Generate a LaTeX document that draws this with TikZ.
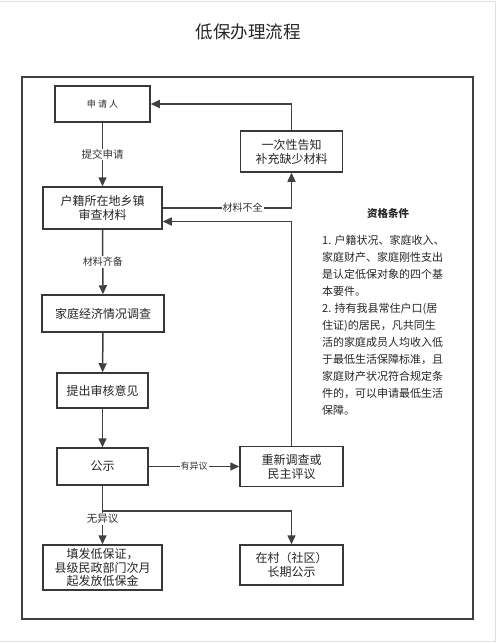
\documentclass[tikz,border=0pt]{standalone}
\usepackage{fontspec}
\setmainfont{Noto Sans CJK SC}
\usetikzlibrary{arrows.meta}
\begin{document}
\begin{tikzpicture}[x=1pt,y=-1pt,
  box/.style={draw=black!78, line width=1.5pt, fill=white, inner sep=0pt, align=center,
    font=\fontsize{12}{14}\selectfont, text=black!85},
  arr/.style={draw=black!75, line width=1.5pt, -{Triangle[length=9pt,width=8pt]}},
  lbl/.style={fill=white, inner sep=1pt, font=\fontsize{10}{12}\selectfont, text=black!80}]
\useasboundingbox (0,0) rectangle (499,643);
\fill[white] (0,0) rectangle (499,643);
\draw[gray!25, line width=1pt] (0,1.5) -- (495,1.5) -- (495,641) -- (0,641);
% title
\node[font=\fontsize{17.5}{20}\selectfont, text=black!85] (title) at (248,32) {低保办理流程};
% outer frame
\draw[draw=black!75, line width=1.6pt] (22,77) rectangle (473,619);
% boxes
\node[box, minimum width=95pt, minimum height=36pt, font=\fontsize{9}{11}\selectfont] (shen) at (102.5,104) {申 请 人};
\node[box, minimum width=102pt, minimum height=41pt] (gaozhi) at (291.5,151.5) {一次性告知\\补充缺少材料};
\node[box, minimum width=119pt, minimum height=42pt] (huji) at (102.5,208) {户籍所在地乡镇\\审查材料};
\node[box, minimum width=122pt, minimum height=37pt] (jiating) at (103,313.5) {家庭经济情况调查};
\node[box, minimum width=91pt, minimum height=35pt] (tichu) at (102.5,390.5) {提出审核意见};
\node[box, minimum width=91pt, minimum height=37pt] (gongshi) at (102.5,466.5) {公示};
\node[box, minimum width=103pt, minimum height=40pt] (chongxin) at (291.5,466.5) {重新调查或\\民主评议};
\node[box, minimum width=119pt, minimum height=45pt, font=\fontsize{12}{13.5}\selectfont] (tianfa) at (102.5,567.5) {填发低保证，\\县级民政部门次月\\起发放低保金};
\node[box, minimum width=103pt, minimum height=40pt] (zaicun) at (291.5,565) {在村（社区）\\长期公示};
% qualification text
\node[font=\bfseries\fontsize{10.5}{12}\selectfont, text=black!85] (head) at (388,214) {资格条件};
\node[anchor=north west, inner sep=0pt, align=left, font=\fontsize{11}{17}\selectfont, text=black!85] (cond) at (322,235)
 {1. 户籍状况、家庭收入、\\家庭财产、家庭刚性支出\\是认定低保对象的四个基\\本要件。\\2. 持有我县常住户口(居\\住证)的居民，凡共同生\\活的家庭成员人均收入低\\于最低生活保障标准，且\\家庭财产状况符合规定条\\件的，可以申请最低生活\\保障。};
% connectors
\coordinate (cA) at (291.5,208);
\coordinate (r1) at (200,221.5);
\coordinate (br) at (102.5,511);
\draw[arr] (shen) -- node[lbl, font=\fontsize{10.5}{12}\selectfont] {提交申请} (huji);
\draw[arr] (gaozhi.north) |- (shen.east);
\draw[arr] (huji.east) -| (gaozhi.south);
\path (huji.east) -- (cA) node[lbl, pos=0.62] {材料不全};
\draw[arr] (chongxin.north) |- (huji.east |- r1);
\draw[arr] (huji) -- node[lbl] {材料齐备} (jiating);
\draw[arr] (jiating) -- (tichu);
\draw[arr] (tichu) -- (gongshi);
\draw[arr] (gongshi) -- node[lbl, font=\fontsize{9}{11}\selectfont] {有异议} (chongxin);
\draw[arr] (gongshi) -- node[lbl, pos=0.57, font=\fontsize{10.5}{12}\selectfont] {无异议} (tianfa);
\draw[arr] (br) -| (zaicun.north);
\end{tikzpicture}
\end{document}
